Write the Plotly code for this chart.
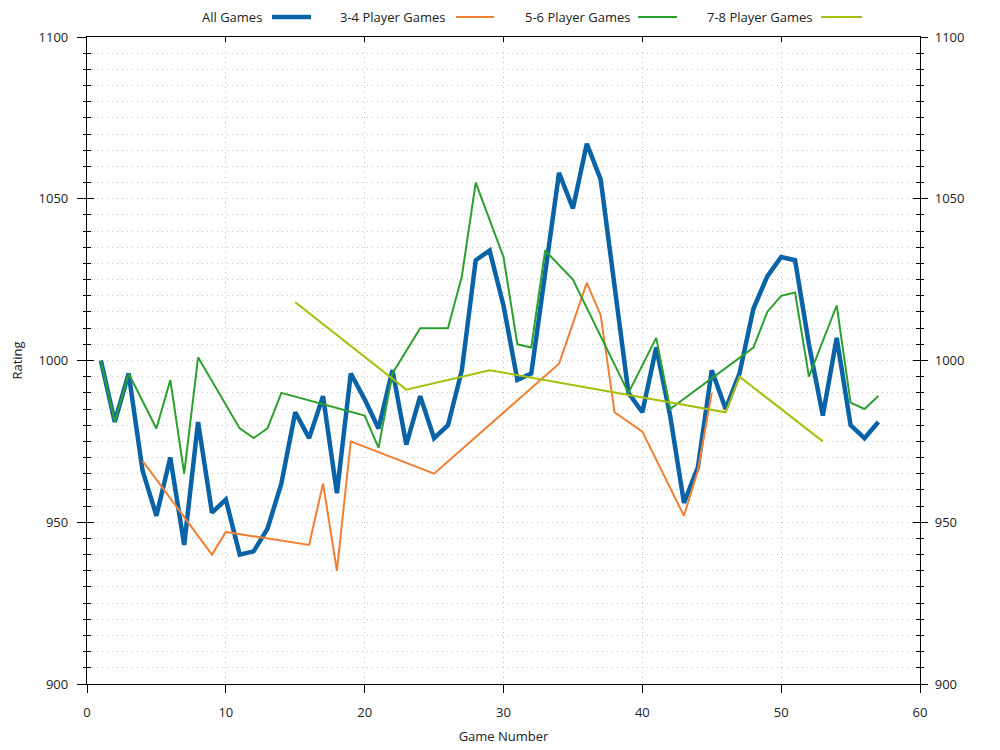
import plotly.graph_objects as go

# ---- data ----
all_games_x = list(range(1, 58))
all_games_y = [1000, 981, 996, 966, 952, 970, 943, 981, 953, 957,
               940, 941, 948, 962, 984, 976, 989, 959, 996, 988,
               979, 997, 974, 989, 976, 980, 997, 1031, 1034, 1017,
               994, 996, 1027, 1058, 1047, 1067, 1056, 1023, 990, 984,
               1004, 983, 956, 967, 997, 985, 996, 1016, 1026, 1032,
               1031, 1005, 983, 1007, 980, 976, 981]

p34_x = [4, 9, 10, 16, 17, 18, 19, 25, 34, 36, 37, 38, 40, 43, 44, 45]
p34_y = [969, 940, 947, 943, 962, 935, 975, 965, 999, 1024, 1014, 984, 978, 952, 966, 990]

p56_x = [1, 2, 3, 5, 6, 7, 8, 11, 12, 13, 14, 20, 21, 22, 24, 26, 27, 28, 30, 31,
         32, 33, 35, 39, 41, 42, 48, 49, 50, 51, 52, 54, 55, 56, 57]
p56_y = [1000, 981, 996, 979, 994, 965, 1001, 979, 976, 979, 990, 983, 973, 996, 1010, 1010, 1026, 1055, 1032, 1005,
         1004, 1034, 1025, 990, 1007, 985, 1004, 1015, 1020, 1021, 995, 1017, 987, 985, 989]

p78_x = [15, 23, 29, 46, 47, 53]
p78_y = [1018, 991, 997, 984, 995, 975]

series_names = ["All Games", "3-4 Player Games", "5-6 Player Games", "7-8 Player Games"]
colors = ["#0a63a6", "#f07f33", "#2ca02c", "#a6bf0a"]
widths = [4.5, 2, 2, 2]

x_range = [0, 60]
y_range = [900, 1100]

FONT = "Open Sans"
TXT = "#222222"

fig = go.Figure()
for xs, ys, name, c, w in zip([all_games_x, p34_x, p56_x, p78_x],
                              [all_games_y, p34_y, p56_y, p78_y],
                              series_names, colors, widths):
    fig.add_trace(go.Scatter(x=xs, y=ys, mode="lines", name=name,
                             line=dict(color=c, width=w), showlegend=False))

# empty helper traces so the overlay axes render
for ya in ["y2", "y3", "y4"]:
    fig.add_trace(go.Scatter(x=[None], y=[None], xaxis="x", yaxis=ya,
                             showlegend=False, hoverinfo="skip"))
fig.add_trace(go.Scatter(x=[None], y=[None], xaxis="x2", yaxis="y",
                         showlegend=False, hoverinfo="skip"))

grid = dict(gridcolor="#c4c4c4", griddash="1px,4px", gridwidth=1)
tickfont = dict(family=FONT, size=13, color=TXT)

# the page body adds an 8px offset, so the figure is sized to fit the window
fig.update_layout(
    template="none",
    width=992, height=742,
    margin=dict(l=79, r=80, t=29, b=66, autoexpand=False),
    paper_bgcolor="white", plot_bgcolor="white",
    font=dict(family=FONT, size=13, color=TXT),
    showlegend=False,
    xaxis=dict(range=x_range, dtick=10, tick0=0, showgrid=True, **grid,
               zeroline=False, showline=True, linecolor="black", linewidth=1.3,
               ticks="outside", ticklen=8, tickcolor="black", tickwidth=1,
               tickfont=tickfont, ticklabelstandoff=8,
               title=dict(text="Game Number", font=dict(family=FONT, size=13, color=TXT), standoff=12)),
    xaxis2=dict(range=x_range, dtick=10, tick0=0, overlaying="x", side="top", anchor="y",
                showgrid=False, zeroline=False, showline=True, linecolor="black", linewidth=1.3,
                ticks="inside", ticklen=5, tickcolor="black", showticklabels=False),
    yaxis=dict(range=y_range, dtick=50, tick0=900, showgrid=True, **grid,
               zeroline=False, showline=True, linecolor="black", linewidth=1.3,
               ticks="outside", ticklen=9, tickcolor="black", tickwidth=1,
               tickfont=tickfont, ticklabelstandoff=6,
               minor=dict(dtick=5, showgrid=True, gridcolor="#c4c4c4", griddash="1px,4px",
                          ticks="outside", ticklen=3, tickcolor="black"),
               title=dict(text="Rating", font=dict(family=FONT, size=13, color=TXT), standoff=14)),
    yaxis3=dict(range=y_range, dtick=50, tick0=900, overlaying="y", side="left", anchor="x",
                showgrid=False, zeroline=False, showline=False,
                ticks="inside", ticklen=7, tickcolor="black", showticklabels=False,
                minor=dict(dtick=5, ticks="inside", ticklen=4, tickcolor="black", showgrid=False)),
    yaxis2=dict(range=y_range, dtick=50, tick0=900, overlaying="y", side="right", anchor="x",
                showgrid=False, zeroline=False, showline=True, linecolor="black", linewidth=1.3,
                ticks="outside", ticklen=7, tickcolor="black", tickfont=tickfont,
                ticklabelstandoff=4,
                minor=dict(dtick=5, ticks="outside", ticklen=3, tickcolor="black", showgrid=False)),
    yaxis4=dict(range=y_range, dtick=50, tick0=900, overlaying="y", side="right", anchor="x",
                showgrid=False, zeroline=False, showline=False,
                ticks="inside", ticklen=7, tickcolor="black", showticklabels=False,
                minor=dict(dtick=5, ticks="inside", ticklen=4, tickcolor="black", showgrid=False)),
)

# custom legend (text left of the line sample, like the original)
leg_text_right = [0.2125, 0.4322, 0.6543, 0.8727]
leg_line = [(0.2221, 0.2689), (0.4430, 0.4886), (0.6615, 0.7083), (0.8812, 0.9304)]
leg_y = 1.031
for name, tr, (l0, l1), c, w in zip(series_names, leg_text_right, leg_line, colors, widths):
    fig.add_annotation(x=tr, y=leg_y, xref="paper", yref="paper", text=name,
                       showarrow=False, xanchor="right", yanchor="middle",
                       font=dict(family=FONT, size=13, color=TXT))
    fig.add_shape(type="line", xref="paper", yref="paper", x0=l0, x1=l1, y0=leg_y, y1=leg_y,
                  line=dict(color=c, width=w))

fig.write_html("out.html")
